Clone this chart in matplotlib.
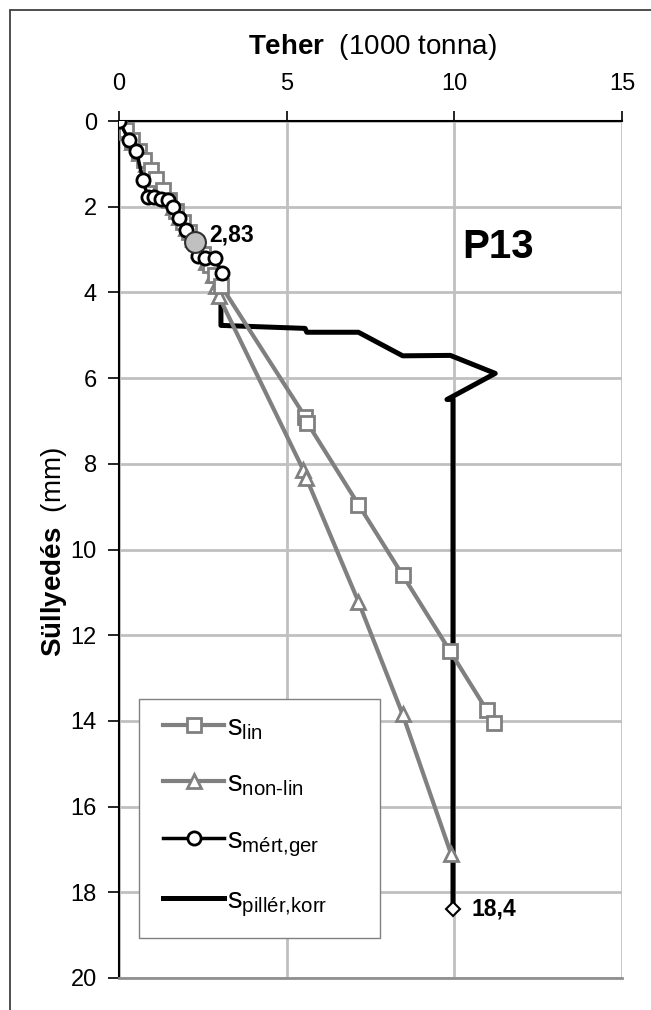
"""Pile load test P13: settlement vs load (Süllyedés vs Teher) -> out.png."""

import matplotlib

matplotlib.use("Agg")
import matplotlib.pyplot as plt
from matplotlib.patches import Rectangle

plt.rcParams["font.family"] = ["Liberation Sans", "DejaVu Sans"]
plt.rcParams["mathtext.fontset"] = "custom"
plt.rcParams["mathtext.rm"] = "Liberation Sans"
plt.rcParams["mathtext.it"] = "Liberation Sans:italic"
plt.rcParams["mathtext.bf"] = "Liberation Sans:bold"

# s_lin (squares)
lin_load = [0.0, 0.2, 0.4, 0.6, 0.75, 0.95, 1.1, 1.3, 1.5, 1.7, 1.9, 2.1, 2.3, 2.5,
            2.7, 2.85, 3.05, 5.55, 5.62, 7.14, 8.46, 9.88, 10.96, 11.18]
lin_settle = [0.0, 0.2, 0.45, 0.7, 0.9, 1.15, 1.35, 1.6, 1.85, 2.1, 2.35, 2.6, 2.85, 3.1,
              3.35, 3.6, 3.85, 6.9, 7.05, 8.95, 10.6, 12.38, 13.74, 14.06]

# s_non-lin (triangles)
nonlin_load = [0.0, 0.2, 0.4, 0.6, 0.8, 1.0, 1.2, 1.4, 1.6, 1.8, 2.0, 2.2, 2.4, 2.6,
               2.8, 2.88, 2.97, 5.5, 5.58, 7.14, 8.46, 9.9]
nonlin_settle = [0.0, 0.25, 0.5, 0.75, 1.0, 1.25, 1.5, 1.75, 2.0, 2.25, 2.5, 2.75, 3.0, 3.3,
                 3.6, 3.85, 4.08, 8.15, 8.32, 11.22, 13.85, 17.1]

# s_mért,ger (measured, circles)
meas_load = [0.0, 0.3, 0.52, 0.71, 0.86, 1.05, 1.25, 1.45, 1.6, 1.78, 2.0, 2.27,
             2.37, 2.57, 2.87, 3.07]
meas_settle = [0.0, 0.45, 0.69, 1.37, 1.77, 1.78, 1.83, 1.85, 2.0, 2.26, 2.55, 2.83,
               3.15, 3.2, 3.2, 3.55]

# s_pillér,korr (corrected pier settlement)
pillar_load = [3.04, 3.04, 5.55, 5.6, 7.14, 8.46, 9.88, 11.22, 9.78, 9.96, 9.96]
pillar_settle = [4.0, 4.77, 4.84, 4.93, 4.93, 5.48, 5.47, 5.89, 6.5, 6.49, 18.4]

mark_load, mark_settle = 2.27, 2.83
end_load, end_settle = 9.96, 18.4

GRAY = "#808080"

fig = plt.figure(figsize=(6.51, 10.10), dpi=100)
ax = fig.add_axes([119 / 651, 1 - 978 / 1010, 503 / 651, 857 / 1010])

ax.plot(pillar_load, pillar_settle, color="black", lw=3.6, zorder=2,
        label=r"$\mathrm{s}_{\text{pillér,korr}}$")
ax.plot(nonlin_load, nonlin_settle, "-^", color=GRAY, lw=3, ms=10, mfc="white",
        mec=GRAY, mew=2, zorder=3, label=r"$\mathrm{s}_{\text{non-lin}}$")
ax.plot(lin_load, lin_settle, "-s", color=GRAY, lw=3, ms=10, mfc="white",
        mec=GRAY, mew=2, zorder=4, label=r"$\mathrm{s}_{\text{lin}}$")
ax.plot(meas_load, meas_settle, "-o", color="black", lw=2.5, ms=9.5, mfc="white",
        mec="black", mew=2, zorder=5, label=r"$\mathrm{s}_{\text{mért,ger}}$")
ax.plot([mark_load], [mark_settle], "o", ms=15, mfc="#c0c0c0", mec="#303030", mew=1.5, zorder=6)
ax.plot([end_load], [end_settle], "D", ms=7.5, mfc="white", mec="black", mew=1.5, zorder=6)

ax.text(mark_load + 0.42, mark_settle - 0.18, "2,83", fontsize=16.5, fontweight="bold",
        ha="left", va="center")
ax.text(end_load + 0.55, end_settle, "18,4", fontsize=16.5, fontweight="bold",
        ha="left", va="center")
ax.text(11.31, 2.95, "P13", fontsize=29, fontweight="bold", ha="center", va="center")

ax.set_xlim(0, 15)
ax.set_ylim(20, 0)
ax.set_xticks([0, 5, 10, 15])
ax.set_yticks(range(0, 21, 2))
ax.xaxis.tick_top()
ax.tick_params(axis="x", direction="out", length=7, width=1.2, pad=12, labelsize=17)
ax.tick_params(axis="y", direction="out", length=8, width=1.2, pad=8, labelsize=17)
ax.grid(color="#c0c0c0", lw=2)
ax.set_axisbelow(True)
for side in ("top", "left"):
    ax.spines[side].set_linewidth(1.5)
    ax.spines[side].set_color("black")
ax.spines["right"].set_visible(False)
ax.spines["bottom"].set_color("#909090")
ax.spines["bottom"].set_linewidth(2)

# legend: entries in reference order, frame drawn separately
handles, labels = ax.get_legend_handles_labels()
order = [2, 1, 3, 0]
box = (20 / 503, (978 - 938) / 857)
ax.add_patch(Rectangle(box, 241 / 503, 239 / 857, transform=ax.transAxes,
                       fill=False, ec=GRAY, lw=1, zorder=7))
ax.add_patch(Rectangle(box, 241 / 503, 239 / 857, transform=ax.transAxes,
                       fc="white", ec="none", zorder=1.5))
ax.legend([handles[i] for i in order], [labels[i] for i in order],
          loc="upper left", bbox_to_anchor=(44 / 503, (978 - 713) / 857),
          frameon=False, fontsize=21, handlelength=2.1, handletextpad=0.1,
          labelspacing=0.95, borderpad=0, borderaxespad=0)

fig.text(372 / 651, 1 - 47 / 1010, r"$\mathbf{Teher}$  (1000 tonna)", fontsize=20,
         ha="center", va="center")
fig.text(54 / 651, 1 - 552 / 1010, r"$\mathbf{Süllyedés}$  (mm)", fontsize=20,
         rotation=90, ha="center", va="center")

fig.patches.append(Rectangle((10 / 651, -0.1), 1.2, 1.1 - 10 / 1010, transform=fig.transFigure,
                             fill=False, ec="#404040", lw=1.3))

fig.savefig("out.png", dpi=100)
